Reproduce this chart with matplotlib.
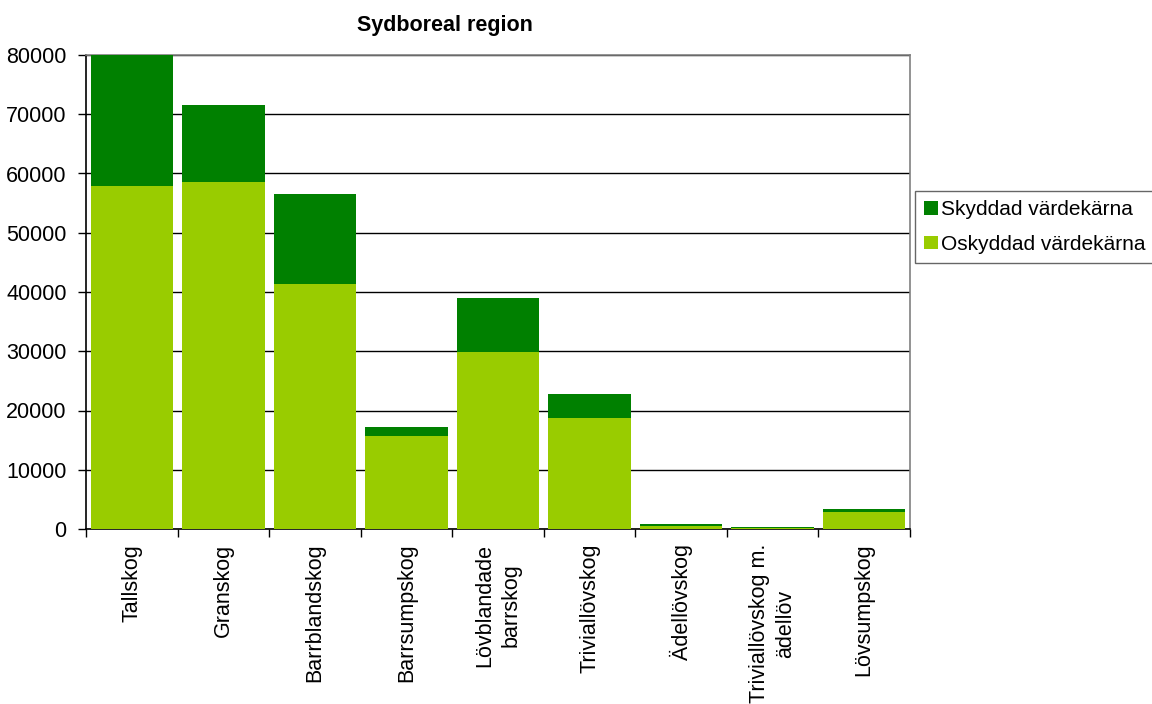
import matplotlib
matplotlib.use("Agg")
import matplotlib.pyplot as plt
import numpy as np

plt.rcParams['font.family'] = ['Liberation Sans', 'DejaVu Sans']

categories = ["Tallskog", "Granskog", "Barrblandskog", "Barrsumpskog",
              "Lövblandade\nbarrskog", "Triviallövskog", "Ädellövskog",
              "Triviallövskog m.\nädellöv", "Lövsumpskog"]
oskyddad = [57950, 58600, 41400, 15700, 29900, 18750, 500, 170, 2870]
skyddad = [22050, 13000, 15150, 1500, 9100, 4050, 340, 170, 510]
yticks = [0, 10000, 20000, 30000, 40000, 50000, 60000, 70000, 80000]

dark = "#008000"
light = "#99CC00"
fs = 15.5

fig = plt.figure(figsize=(11.52, 7.04), dpi=100)
ax = fig.add_axes([86 / 1152, 1 - 529 / 704, (910 - 86) / 1152, (529 - 55) / 704])

x = np.arange(len(categories))
b1 = ax.bar(x, oskyddad, width=0.9, color=light, zorder=3, label="Oskyddad värdekärna")
b2 = ax.bar(x, skyddad, width=0.9, bottom=oskyddad, color=dark, zorder=3,
            label="Skyddad värdekärna")

ax.set_xlim(-0.5, len(categories) - 0.5)
ax.set_ylim(0, 80000)
ax.set_yticks(yticks)
ax.set_yticklabels([str(v) for v in yticks], fontsize=fs)
ax.yaxis.grid(True, color="black", linewidth=1, zorder=0)
ax.tick_params(axis="y", direction="out", length=6, width=1, pad=8)

# category boundaries get the tick marks, labels sit between them
ax.set_xticks(np.arange(len(categories) + 1) - 0.5)
ax.set_xticklabels([])
ax.tick_params(axis="x", direction="out", length=6, width=1)
for i, lab in enumerate(categories):
    ax.text(i, -2500, lab, rotation=90, ha="center", va="top", fontsize=fs,
            linespacing=1.35, transform=ax.transData)

for s in ["left", "bottom"]:
    ax.spines[s].set_color("black")
    ax.spines[s].set_linewidth(1.2)
for s in ["top", "right"]:
    ax.spines[s].set_color("#808080")
    ax.spines[s].set_linewidth(1.2)

fig.text(445 / 1152, 1 - 25 / 704, "Sydboreal region", ha="center", va="center",
         fontsize=fs, fontweight="bold")

leg = fig.legend(handles=[b2, b1], labels=["Skyddad värdekärna", "Oskyddad värdekärna"],
                 loc="center left", bbox_to_anchor=(915 / 1152, 1 - 227 / 704),
                 fontsize=15, frameon=True, fancybox=False, handlelength=0.65,
                 handleheight=0.65, handletextpad=0.15, borderpad=0.45,
                 labelspacing=0.75, borderaxespad=0)
leg.get_frame().set_edgecolor("#404040")
leg.get_frame().set_linewidth(1.0)

fig.savefig("out.png", dpi=100)
